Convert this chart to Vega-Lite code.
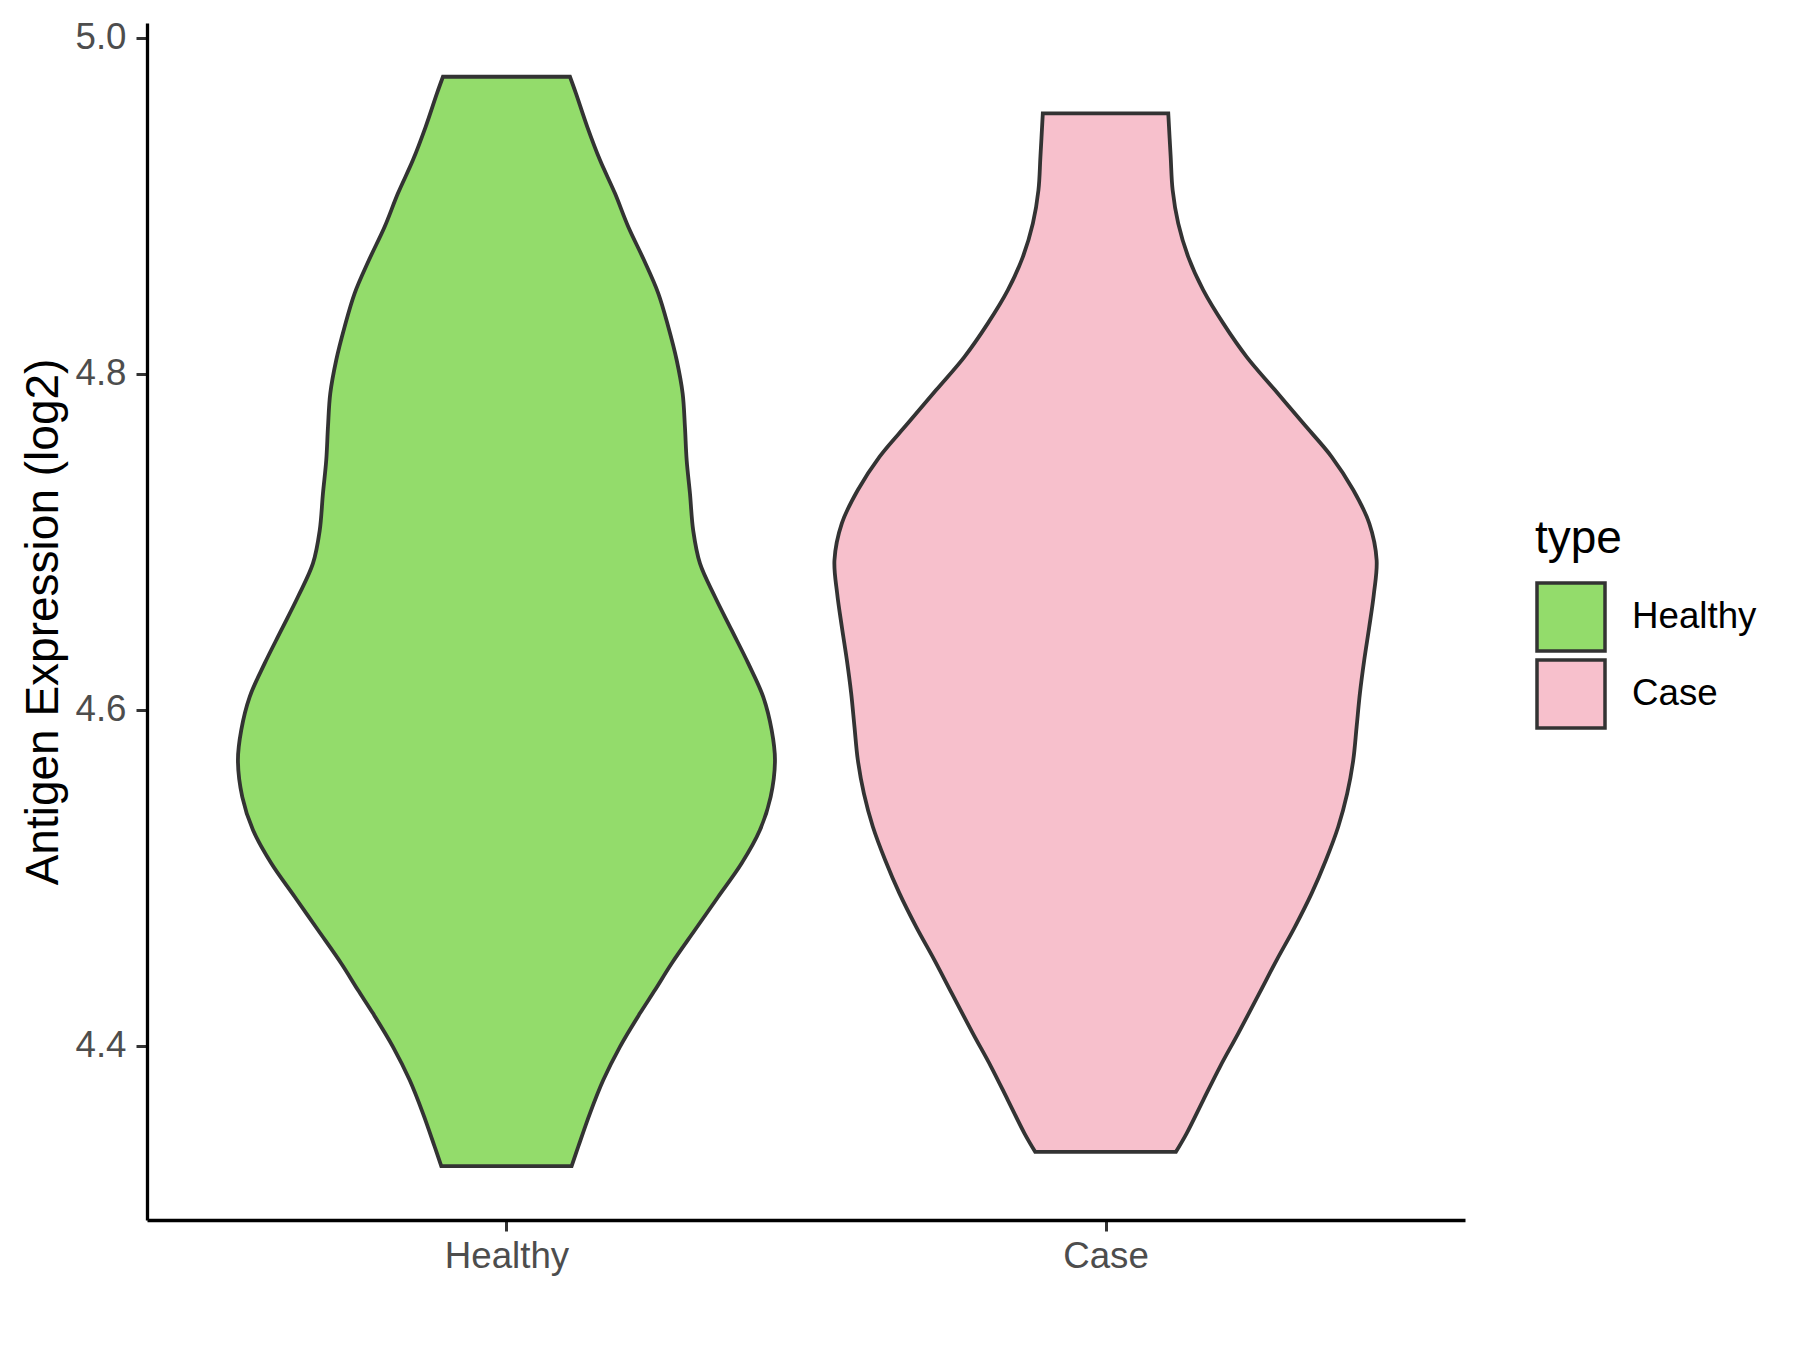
{
  "$schema": "https://vega.github.io/schema/vega-lite/v6.json",
  "width": 1318,
  "height": 1197,
  "autosize": {"type": "none"},
  "padding": {"left": 147, "top": 23, "right": 335, "bottom": 130},
  "background": "white",
  "config": {"view": {"stroke": null}, "font": "Liberation Sans"},
  "data": {
    "values": [
      {"type": "Healthy", "value": 4.3284, "density": 0.1088},
      {"type": "Healthy", "value": 4.3399, "density": 0.1198},
      {"type": "Healthy", "value": 4.3598, "density": 0.1394},
      {"type": "Healthy", "value": 4.3796, "density": 0.1616},
      {"type": "Healthy", "value": 4.3994, "density": 0.1894},
      {"type": "Healthy", "value": 4.4193, "density": 0.2228},
      {"type": "Healthy", "value": 4.4332, "density": 0.2479},
      {"type": "Healthy", "value": 4.4490, "density": 0.2757},
      {"type": "Healthy", "value": 4.4689, "density": 0.3146},
      {"type": "Healthy", "value": 4.4887, "density": 0.3535},
      {"type": "Healthy", "value": 4.5086, "density": 0.3926},
      {"type": "Healthy", "value": 4.5284, "density": 0.4231},
      {"type": "Healthy", "value": 4.5482, "density": 0.4410},
      {"type": "Healthy", "value": 4.5700, "density": 0.4482},
      {"type": "Healthy", "value": 4.5879, "density": 0.4427},
      {"type": "Healthy", "value": 4.6077, "density": 0.4286},
      {"type": "Healthy", "value": 4.6276, "density": 0.4036},
      {"type": "Healthy", "value": 4.6474, "density": 0.3759},
      {"type": "Healthy", "value": 4.6673, "density": 0.3480},
      {"type": "Healthy", "value": 4.6871, "density": 0.3230},
      {"type": "Healthy", "value": 4.7065, "density": 0.3118},
      {"type": "Healthy", "value": 4.7288, "density": 0.3063},
      {"type": "Healthy", "value": 4.7486, "density": 0.3008},
      {"type": "Healthy", "value": 4.7685, "density": 0.2979},
      {"type": "Healthy", "value": 4.7883, "density": 0.2941},
      {"type": "Healthy", "value": 4.8082, "density": 0.2841},
      {"type": "Healthy", "value": 4.8280, "density": 0.2701},
      {"type": "Healthy", "value": 4.8479, "density": 0.2534},
      {"type": "Healthy", "value": 4.8677, "density": 0.2295},
      {"type": "Healthy", "value": 4.8875, "density": 0.2033},
      {"type": "Healthy", "value": 4.9074, "density": 0.1811},
      {"type": "Healthy", "value": 4.9272, "density": 0.1561},
      {"type": "Healthy", "value": 4.9470, "density": 0.1349},
      {"type": "Healthy", "value": 4.9669, "density": 0.1160},
      {"type": "Healthy", "value": 4.9768, "density": 0.1060},
      {"type": "Case", "value": 4.3369, "density": 0.1175},
      {"type": "Case", "value": 4.3479, "density": 0.1354},
      {"type": "Case", "value": 4.3677, "density": 0.1631},
      {"type": "Case", "value": 4.3875, "density": 0.1910},
      {"type": "Case", "value": 4.4074, "density": 0.2215},
      {"type": "Case", "value": 4.4312, "density": 0.2566},
      {"type": "Case", "value": 4.4510, "density": 0.2856},
      {"type": "Case", "value": 4.4708, "density": 0.3161},
      {"type": "Case", "value": 4.4907, "density": 0.3440},
      {"type": "Case", "value": 4.5106, "density": 0.3679},
      {"type": "Case", "value": 4.5304, "density": 0.3884},
      {"type": "Case", "value": 4.5502, "density": 0.4034},
      {"type": "Case", "value": 4.5701, "density": 0.4135},
      {"type": "Case", "value": 4.5899, "density": 0.4191},
      {"type": "Case", "value": 4.6098, "density": 0.4246},
      {"type": "Case", "value": 4.6296, "density": 0.4318},
      {"type": "Case", "value": 4.6494, "density": 0.4402},
      {"type": "Case", "value": 4.6693, "density": 0.4480},
      {"type": "Case", "value": 4.6891, "density": 0.4525},
      {"type": "Case", "value": 4.7110, "density": 0.4402},
      {"type": "Case", "value": 4.7308, "density": 0.4135},
      {"type": "Case", "value": 4.7506, "density": 0.3774},
      {"type": "Case", "value": 4.7705, "density": 0.3300},
      {"type": "Case", "value": 4.7903, "density": 0.2828},
      {"type": "Case", "value": 4.8101, "density": 0.2355},
      {"type": "Case", "value": 4.8300, "density": 0.1965},
      {"type": "Case", "value": 4.8498, "density": 0.1631},
      {"type": "Case", "value": 4.8696, "density": 0.1380},
      {"type": "Case", "value": 4.8895, "density": 0.1213},
      {"type": "Case", "value": 4.9093, "density": 0.1120},
      {"type": "Case", "value": 4.9292, "density": 0.1087},
      {"type": "Case", "value": 4.9550, "density": 0.1047}
    ]
  },
  "transform": [
    {"calculate": "datum.type === 'Healthy' ? 1 : 2", "as": "pos"},
    {"calculate": "datum.pos - datum.density", "as": "lo"},
    {"calculate": "datum.pos + datum.density", "as": "hi"}
  ],
  "mark": {
    "type": "area",
    "orient": "horizontal",
    "interpolate": "catmull-rom",
    "stroke": "#333333",
    "strokeWidth": 3.8,
    "fillOpacity": 1,
    "strokeJoin": "miter"
  },
  "encoding": {
    "y": {
      "field": "value",
      "type": "quantitative",
      "scale": {"domain": [4.2963, 5.0088], "nice": false, "zero": false},
      "axis": {
        "values": [4.4, 4.6, 4.8, 5.0],
        "format": ".1f",
        "title": "Antigen Expression (log2)",
        "titleFontSize": 46,
        "titleFontWeight": "normal",
        "titleColor": "#000000",
        "titleAngle": -90,
        "titleAlign": "center",
        "titleBaseline": "middle",
        "titleX": -104,
        "titleY": 598.5,
        "grid": false,
        "domainColor": "#000000",
        "domainWidth": 3.3,
        "tickColor": "#333333",
        "tickWidth": 3,
        "tickSize": 11,
        "labelFontSize": 36.7,
        "labelColor": "#4D4D4D",
        "labelPadding": 10
      }
    },
    "x": {
      "field": "lo",
      "type": "quantitative",
      "scale": {"domain": [0.4, 2.6], "nice": false, "zero": false},
      "axis": {
        "values": [1, 2],
        "labelExpr": "datum.value === 1 ? 'Healthy' : 'Case'",
        "title": null,
        "grid": false,
        "domainColor": "#000000",
        "domainWidth": 3.3,
        "tickColor": "#333333",
        "tickWidth": 3,
        "tickSize": 11,
        "labelFontSize": 36.7,
        "labelColor": "#4D4D4D",
        "labelPadding": 7,
        "labelFlush": false
      }
    },
    "x2": {"field": "hi"},
    "color": {
      "field": "type",
      "type": "nominal",
      "scale": {"domain": ["Healthy", "Case"], "range": ["#93DC6B", "#F7C0CC"]},
      "legend": {
        "title": "type",
        "orient": "none",
        "legendX": 1388,
        "legendY": 494,
        "padding": 0,
        "titleFontSize": 46,
        "titleFontWeight": "normal",
        "titleColor": "#000000",
        "titlePadding": 18,
        "labelFontSize": 36.7,
        "labelColor": "#000000",
        "labelOffset": 25,
        "symbolType": "square",
        "symbolSize": 4624,
        "symbolStrokeColor": "#333333",
        "symbolStrokeWidth": 3.5,
        "symbolOpacity": 1,
        "symbolFillOpacity": 1,
        "rowPadding": -9.5
      }
    }
  }
}
